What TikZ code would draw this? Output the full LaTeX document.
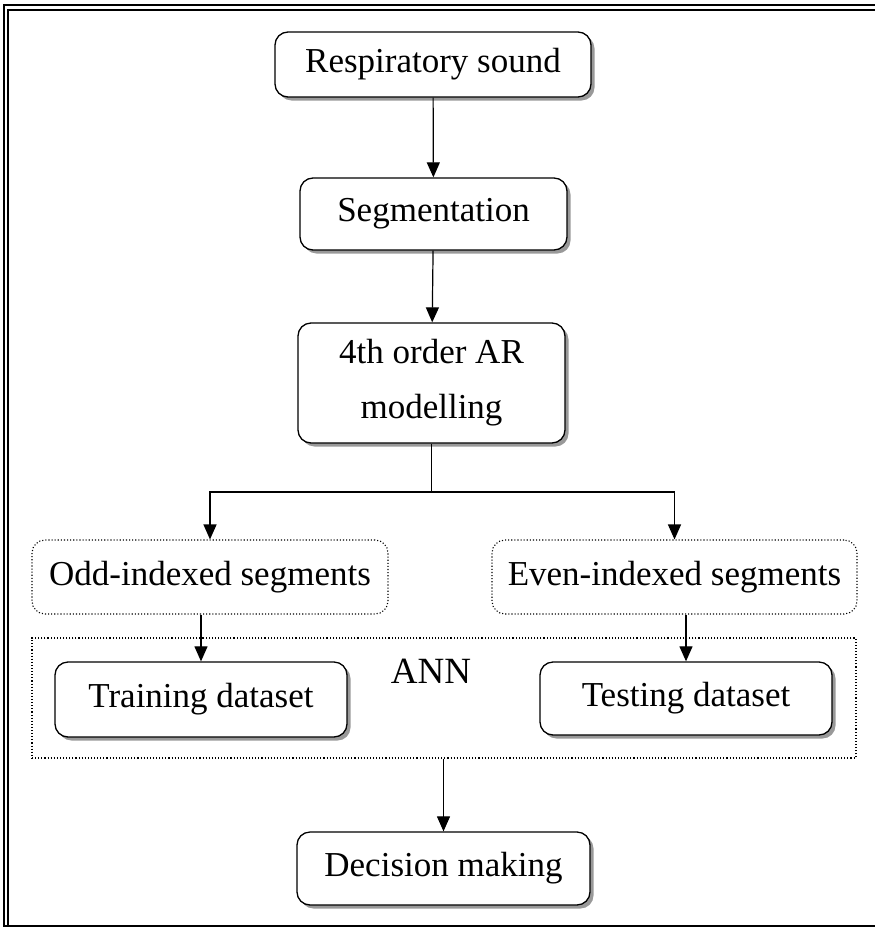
\documentclass[tikz,border=0pt]{standalone}
\usepackage{fontspec}
\setmainfont{Liberation Serif}
\usetikzlibrary{arrows.meta,shadows}

\begin{document}
\begin{tikzpicture}[x=1pt,y=1pt,yscale=-1,xscale=1,
  box/.style={draw,line width=1.3pt,rounded corners=13pt,fill=white,inner sep=0pt,align=center,
    drop shadow={shadow xshift=3.5pt,shadow yshift=-3.5pt,fill=black!40,opacity=1}},
  dotbox/.style={draw,line width=1.1pt,dotted,rounded corners=13pt,inner sep=0pt,align=center},
  arr/.style={line width=1.2pt,-{Triangle[length=15pt,width=13pt]}},
  font=\fontsize{35}{55}\selectfont]

\useasboundingbox (0,0) rectangle (875,929);

% frame
\draw[line width=1.2pt] (875,5) -- (4,5) -- (4,926) -- (875,926);
\draw[line width=1.2pt] (875,10) -- (8,10) -- (8,926);

% main chain
\node[box,minimum width=316pt,minimum height=65pt] (resp) at (433,64.5) {Respiratory sound};
\node[box,minimum width=267pt,minimum height=72pt] (seg) at (433.5,214) {Segmentation};
\node[box,minimum width=267pt,minimum height=120pt] (ar) at (431.5,383) {4th order AR\\modelling};

% split of segments
\node[dotbox,minimum width=356pt,minimum height=74pt] (odd) at (210,577) {Odd-indexed segments};
\node[dotbox,minimum width=365pt,minimum height=74pt] (even) at (674.5,577) {Even-indexed segments};

% ANN block
\node[draw,line width=1.1pt,dotted,minimum width=824pt,minimum height=120pt] (ann) at (444,698) {};
\node[anchor=base,inner sep=0pt,font=\fontsize{37}{44}\selectfont] (annlabel) at (431,683) {ANN};
\node[box,minimum width=292pt,minimum height=75pt] (train) at (201,699.5) {Training dataset};
\node[box,minimum width=292pt,minimum height=73pt] (test) at (686,698.5) {Testing dataset};

\node[box,minimum width=293pt,minimum height=73pt] (dec) at (443.5,868.5) {Decision making};

% connectors
\coordinate (split) at (431.5,492);
\draw[arr] (resp) -- (seg);
\draw[arr] (seg) -- (ar);
\draw[line width=1.2pt] (ar) -- (split);
\draw[arr] (split) -| (odd.north);
\draw[arr] (split) -| (even.north);
\draw[arr] (odd.south -| train.north) -- (train.north);
\draw[arr] (even.south -| test.north) -- (test.north);
\draw[arr] (ann.south -| dec.north) -- (dec.north);

\end{tikzpicture}
\end{document}
